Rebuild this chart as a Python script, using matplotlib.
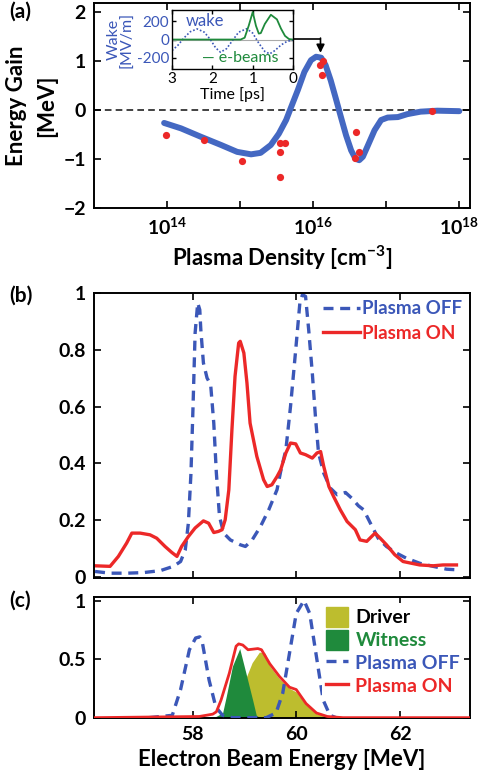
#!/usr/bin/env python3
"""
Wakefield energy gain vs plasma density and electron beam spectra
"""

import numpy as np
import matplotlib
matplotlib.use('Agg')
import matplotlib.pyplot as plt
from matplotlib import font_manager
from matplotlib.patches import Patch
from matplotlib.lines import Line2D
from matplotlib.ticker import NullLocator


def pick_bold_font(candidates):
    """Return the first family that has a real bold face installed"""
    for fam in candidates:
        for f in font_manager.fontManager.ttflist:
            w = f.weight
            if isinstance(w, str):
                w = 700 if 'bold' in w.lower() else 400
            if f.name == fam and w >= 700:
                return fam
    return 'DejaVu Sans'


FONT = pick_bold_font(['Lato', 'Open Sans', 'Noto Sans', 'Liberation Sans'])
plt.rcParams['font.family'] = [FONT, 'DejaVu Sans']
plt.rcParams['font.weight'] = 'bold'
plt.rcParams['mathtext.fontset'] = 'custom'
plt.rcParams['mathtext.rm'] = FONT + ':bold'
plt.rcParams['mathtext.bf'] = FONT + ':bold'
plt.rcParams['mathtext.default'] = 'bf'

BLUE = '#4468c2'
DBLUE = '#3b57b8'
RED = '#ec2828'
GREEN = '#1f8a3c'
OLIVE = '#bdbd2e'

# ---- (a) energy gain vs plasma density (log10 of density) ----
curve_logn = [13.96, 14.19, 14.46, 14.74, 14.96, 15.15, 15.28, 15.42, 15.53, 15.63,
              15.69, 15.79, 15.88, 15.97, 16.04, 16.11, 16.17, 16.24, 16.31, 16.38,
              16.45, 16.52, 16.58, 16.63, 16.68, 16.74, 16.84, 16.93, 17.02, 17.16,
              17.29, 17.47, 17.7, 18.0]
curve_gain = [-0.26, -0.37, -0.54, -0.71, -0.85, -0.9, -0.87, -0.71, -0.48, -0.2,
              0.03, 0.41, 0.78, 1.02, 1.09, 1.07, 0.92, 0.61, 0.24, -0.14,
              -0.51, -0.82, -0.99, -1.02, -0.95, -0.75, -0.41, -0.2, -0.15, -0.14,
              -0.08, -0.03, -0.01, -0.02]
meas_logn = [13.98, 14.51, 15.03, 15.55, 15.61, 15.55, 15.55, 16.1, 16.13, 16.12,
             16.59, 16.57, 16.63, 17.63]
meas_gain = [-0.51, -0.61, -1.04, -0.66, -0.67, -0.85, -1.36, 0.92, 1.0, 0.72,
             -0.44, -0.97, -0.85, -0.01]

# inset: wake and e-beam current vs time
wake_t = [3.0, 2.85, 2.7, 2.55, 2.38, 2.2, 2.05, 1.92, 1.8, 1.65, 1.5, 1.35,
          1.15, 1.0, 0.85, 0.7, 0.58, 0.45, 0.3, 0.15, 0.0]
wake_v = [-120, -60, 20, 85, 116, 80, 0, -90, -138, -100, -10, 80,
          118, 70, -40, -130, -156, -120, -60, -20, -5]
beam_t = [3.0, 1.3, 1.2, 1.1, 1.0, 0.92, 0.85, 0.8, 0.7, 0.55, 0.4, 0.3, 0.2, 0.1, 0.0]
beam_v = [0, 0, 20, 150, 300, 150, 65, 70, 170, 270, 220, 120, 40, 5, 0]

# ---- (b) measured spectra ----
on_b_E = [56.12, 56.41, 56.57, 56.73, 56.83, 56.99, 57.18, 57.31, 57.47, 57.6,
          57.7, 57.79, 57.92, 58.05, 58.21, 58.31, 58.41, 58.5, 58.57, 58.63,
          58.7, 58.76, 58.82, 58.89, 58.92, 58.99, 59.05, 59.11, 59.24, 59.37,
          59.44, 59.53, 59.63, 59.7, 59.8, 59.89, 59.99, 60.08, 60.18, 60.31,
          60.4, 60.47, 60.53, 60.63, 60.72, 60.85, 60.98, 61.14, 61.23, 61.36,
          61.52, 61.62, 61.74, 61.9, 62.06, 62.22, 62.38, 62.64, 62.83, 63.09]
on_b_I = [0.04, 0.038, 0.073, 0.12, 0.155, 0.155, 0.149, 0.137, 0.108, 0.087,
          0.073, 0.108, 0.143, 0.173, 0.198, 0.19, 0.157, 0.161, 0.167, 0.202,
          0.307, 0.519, 0.707, 0.824, 0.83, 0.789, 0.683, 0.542, 0.425, 0.343,
          0.319, 0.325, 0.354, 0.378, 0.437, 0.472, 0.469, 0.437, 0.431, 0.419,
          0.437, 0.442, 0.39, 0.319, 0.284, 0.237, 0.196, 0.167, 0.131, 0.126,
          0.155, 0.137, 0.114, 0.079, 0.055, 0.049, 0.043, 0.04, 0.043, 0.043]
off_b_E = [56.12, 56.41, 56.73, 57.05, 57.38, 57.63, 57.77, 57.86, 57.92, 57.97,
           58.01, 58.05, 58.1, 58.14, 58.16, 58.21, 58.28, 58.35, 58.41, 58.46,
           58.52, 58.6, 58.73, 58.92, 59.02, 59.15, 59.31, 59.47, 59.63, 59.7,
           59.8, 59.89, 59.99, 60.07, 60.12, 60.18, 60.24, 60.31, 60.37, 60.43,
           60.53, 60.66, 60.79, 60.95, 61.07, 61.2, 61.3, 61.43, 61.58, 61.74,
           61.93, 62.12, 62.38, 62.64, 62.9, 63.09]
off_b_I = [0.02, 0.014, 0.014, 0.016, 0.023, 0.038, 0.055, 0.096, 0.19, 0.366,
           0.601, 0.859, 0.965, 0.941, 0.871, 0.754, 0.701, 0.677, 0.542, 0.366,
           0.214, 0.155, 0.131, 0.114, 0.108, 0.131, 0.178, 0.237, 0.308, 0.372,
           0.448, 0.601, 0.8, 0.965, 0.994, 0.988, 0.871, 0.718, 0.566, 0.437,
           0.366, 0.313, 0.29, 0.298, 0.278, 0.251, 0.237, 0.19, 0.137, 0.108,
           0.085, 0.067, 0.049, 0.038, 0.028, 0.026]

# ---- (c) simulated spectra ----
off_c_E = [57.16, 57.61, 57.77, 57.94, 58.06, 58.14, 58.19, 58.32, 58.45, 58.58,
           58.77, 59.42, 59.61, 59.74, 59.87, 60.0, 60.15, 60.26, 60.39, 60.52,
           60.65, 60.77]
off_c_I = [0.0, 0.02, 0.24, 0.58, 0.68, 0.69, 0.64, 0.32, 0.09, 0.02,
           0.0, 0.0, 0.04, 0.21, 0.55, 0.89, 1.0, 0.89, 0.52, 0.15,
           0.02, 0.0]
on_c_E = [56.1, 58.13, 58.39, 58.46, 58.55, 58.71, 58.84, 58.89, 58.97, 59.07,
          59.26, 59.33, 59.49, 59.68, 59.87, 60.0, 60.19, 60.39, 60.6, 60.9, 63.35]
on_c_I = [0.0, 0.01, 0.03, 0.05, 0.15, 0.38, 0.61, 0.63, 0.62, 0.58,
          0.59, 0.58, 0.46, 0.35, 0.26, 0.24, 0.12, 0.04, 0.01, 0.0, 0.0]
wit_E = [58.45, 58.58, 58.65, 58.77, 58.91, 59.03, 59.16, 59.23, 59.3]
wit_I = [0.01, 0.04, 0.18, 0.44, 0.59, 0.38, 0.15, 0.02, 0.0]
drv_E = [58.75, 58.9, 59.04, 59.15, 59.29, 59.4, 59.49, 59.68, 59.87, 60.0,
         60.19, 60.39, 60.6, 60.9]
drv_I = [0.0, 0.15, 0.35, 0.47, 0.56, 0.55, 0.44, 0.33, 0.25, 0.22,
         0.11, 0.035, 0.008, 0.0]


def style_axis(ax, lw=1.4):
    for s in ax.spines.values():
        s.set_linewidth(lw)
    ax.tick_params(direction='in', top=True, right=True, length=5, width=1.2,
                   labelsize=14, pad=6)
    for lab in ax.get_xticklabels() + ax.get_yticklabels():
        lab.set_fontweight('bold')


fig = plt.figure(figsize=(4.82, 7.83), dpi=100)

# panel (a)
ax_a = fig.add_axes([0.195, 0.734, 0.780, 0.2618])
ax_a.set_xscale('log')
ax_a.plot(10 ** np.array(curve_logn), curve_gain, color=BLUE, lw=4.3,
          solid_capstyle='round', solid_joinstyle='round', zorder=2)
ax_a.plot(10 ** np.array(meas_logn), meas_gain, 'o', color=RED, ms=5.2,
          mec='none', zorder=3)
ax_a.axhline(0, color='#222222', lw=1.2, ls=(0, (4, 2.5)), zorder=1)
ax_a.set_xlim(1e13, 1.4e18)
ax_a.set_ylim(-2.0, 2.18)
ax_a.set_xticks([1e14, 1e15, 1e16, 1e17, 1e18],
                labels=['$10^{14}$', '', '$10^{16}$', '', '$10^{18}$'])
ax_a.xaxis.set_minor_locator(NullLocator())
ax_a.set_yticks([-2, -1, 0, 1, 2])
style_axis(ax_a)
ax_a.set_xlabel('Plasma Density [cm$^{-3}$]', fontsize=16, fontweight='bold',
                labelpad=4)
ax_a.set_ylabel('Energy Gain\n[MeV]', fontsize=16, fontweight='bold',
                labelpad=4, linespacing=1.55)

# pointer from inset to data peak
ax_a.plot([5.4e15, 1.26e16], [1.46, 1.46], color='black', lw=1.2, zorder=4)
ax_a.annotate('', xy=(1.26e16, 1.17), xytext=(1.26e16, 1.47),
              arrowprops=dict(arrowstyle='-|>', color='black', lw=1.2,
                              mutation_scale=12, shrinkA=0, shrinkB=0))

# inset
ax_in = fig.add_axes([0.357, 0.912, 0.251, 0.075])
ax_in.axhline(0, color='#aaaaaa', lw=0.8)
ax_in.plot(wake_t, wake_v, color=DBLUE, lw=1.2, ls=(0, (1, 1.2)))
ax_in.plot(beam_t, beam_v, color=GREEN, lw=1.3)
ax_in.annotate('', xy=(-0.05, 265), xytext=(0.28, 265),
               arrowprops=dict(arrowstyle='-|>', color=GREEN, lw=1.3,
                               mutation_scale=9, shrinkA=0, shrinkB=0))
ax_in.set_xlim(3, 0)
ax_in.set_ylim(-320, 320)
ax_in.set_xticks([3, 2, 1, 0], labels=['3', '2', '1', '0'])
ax_in.set_yticks([-200, 0, 200], labels=['-200', '0', '200'])
for s in ax_in.spines.values():
    s.set_linewidth(1.0)
ax_in.tick_params(direction='in', top=True, right=True, length=3, width=1,
                  labelsize=11, pad=2)
for lab in ax_in.get_xticklabels():
    lab.set_fontweight('normal')
for lab in ax_in.get_yticklabels():
    lab.set_fontweight('normal')
    lab.set_color(DBLUE)
ax_in.set_xlabel('Time [ps]', fontsize=11.5, fontweight='normal', labelpad=1)
ax_in.set_ylabel('Wake\n[MV/m]', fontsize=11.5, fontweight='normal',
                 color=DBLUE, linespacing=0.95, labelpad=2)
ax_in.text(2.65, 200, 'wake', color=DBLUE, fontsize=12, fontweight='normal',
           va='center', ha='left')
ax_in.text(2.27, -200, '— e-beams', color=GREEN, fontsize=11.5, fontweight='normal',
           va='center', ha='left')

# panel (b)
ax_b = fig.add_axes([0.195, 0.2618, 0.780, 0.364])
ax_b.plot(off_b_E, off_b_I, color=DBLUE, lw=2.4, ls=(0, (3, 2)), label='Plasma OFF')
ax_b.plot(on_b_E, on_b_I, color=RED, lw=2.4, label='Plasma ON')
ax_b.set_xlim(56.1, 63.35)
ax_b.set_ylim(-0.003, 1.0)
ax_b.set_xticks([58, 60, 62], labels=['', '', ''])
ax_b.set_yticks([0, 0.2, 0.4, 0.6, 0.8, 1.0],
                labels=['0', '0.2', '0.4', '0.6', '0.8', '1'])
style_axis(ax_b)
ax_b.legend(loc='upper right', frameon=False,
            labelcolor='linecolor', prop={'weight': 'bold', 'size': 13.5},
            handlelength=2.0, handletextpad=0.1, borderaxespad=0.2,
            borderpad=0.2, labelspacing=0.4)

# panel (c)
ax_c = fig.add_axes([0.195, 0.083, 0.780, 0.1545])
ax_c.fill_between(drv_E, drv_I, color=OLIVE, lw=0, zorder=1)
ax_c.fill_between(wit_E, wit_I, color=GREEN, lw=0, zorder=2)
ax_c.plot(off_c_E, off_c_I, color=DBLUE, lw=2.4, ls=(0, (3, 2)), zorder=3)
ax_c.plot(on_c_E, on_c_I, color=RED, lw=2.0, zorder=4)
ax_c.set_xlim(56.1, 63.35)
ax_c.set_ylim(-0.003, 1.03)
ax_c.set_xticks([58, 60, 62], labels=['58', '60', '62'])
ax_c.set_yticks([0, 0.5, 1.0], labels=['0', '0.5', '1'])
style_axis(ax_c)
ax_c.set_xlabel('Electron Beam Energy [MeV]', fontsize=16, fontweight='bold',
                labelpad=4)
handles = [Patch(color=OLIVE, label='Driver'),
           Patch(color=GREEN, label='Witness'),
           Line2D([], [], color=DBLUE, lw=2.4, ls=(0, (3, 2)), label='Plasma OFF'),
           Line2D([], [], color=RED, lw=2.4, label='Plasma ON')]
leg = ax_c.legend(handles=handles, loc='upper right',
                  prop={'weight': 'bold', 'size': 14},
                  frameon=True, facecolor='white', edgecolor='none', framealpha=1,
                  fancybox=False, handlelength=1.1, handleheight=1.2,
                  handletextpad=0.4, borderaxespad=0.3, borderpad=0.2,
                  labelspacing=0.15)
for txt, col in zip(leg.get_texts(), ['black', GREEN, DBLUE, RED]):
    txt.set_color(col)
leg.set_zorder(5)

# panel letters
fig.text(0.02, 0.985, '(a)', fontsize=15, fontweight='bold', va='center', ha='left')
fig.text(0.02, 0.623, '(b)', fontsize=15, fontweight='bold', va='center', ha='left')
fig.text(0.02, 0.233, '(c)', fontsize=15, fontweight='bold', va='center', ha='left')

fig.savefig('out.png', dpi=100)
